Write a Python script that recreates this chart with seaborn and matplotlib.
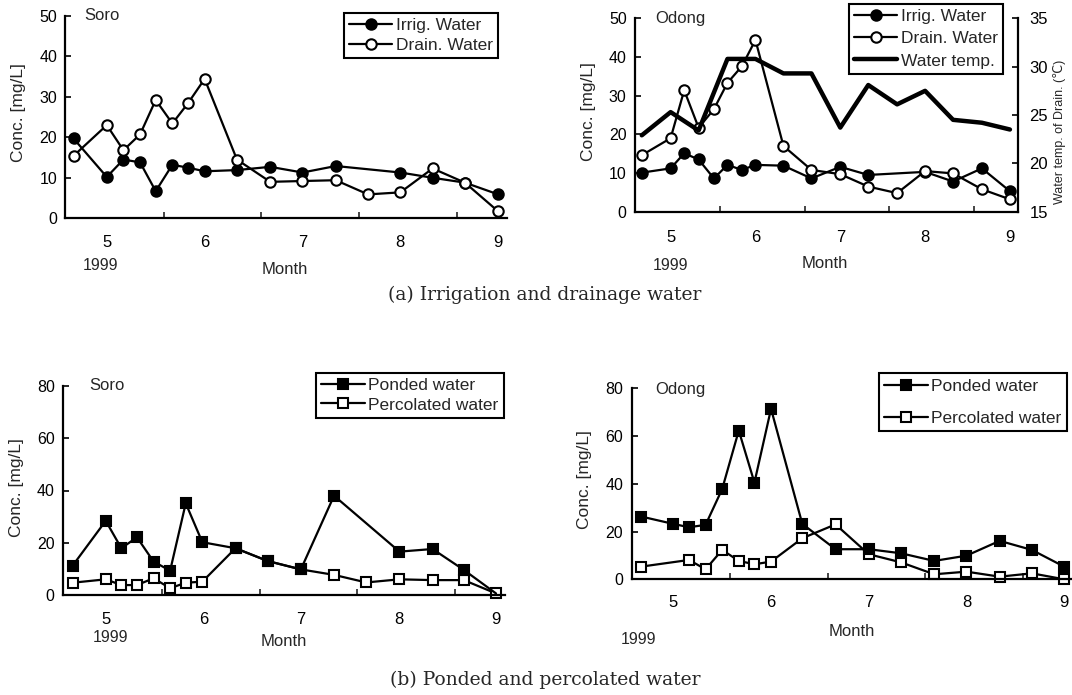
"""
Konsentrasi air irigasi/drainase dan air genangan/perkolasi, Soro & Odong (1999)
"""
import matplotlib
matplotlib.use('Agg')
import matplotlib.pyplot as plt
import seaborn as sns

# ---- data (x = bulan, pecahan) ----
MONTHS = [5, 6, 7, 8, 9]

# (a) Soro
soro_irrig_x = [4.66, 5.0, 5.17, 5.34, 5.5, 5.67, 5.83, 6.0, 6.33, 6.67, 7.0, 7.34, 8.0, 8.33, 8.66, 9.0]
soro_irrig = [19.7, 10.2, 14.5, 13.8, 6.7, 13.2, 12.5, 11.6, 11.9, 12.7, 11.3, 12.9, 11.3, 10.0, 8.8, 5.9]
soro_drain_x = [4.66, 5.0, 5.17, 5.34, 5.5, 5.67, 5.83, 6.0, 6.33, 6.67, 7.0, 7.34, 7.67, 8.0, 8.33, 8.66, 9.0]
soro_drain = [15.4, 23.0, 16.8, 20.7, 29.2, 23.4, 28.4, 34.4, 14.5, 9.0, 9.2, 9.4, 5.9, 6.4, 12.3, 8.8, 1.7]

# (a) Odong
odong_irrig_x = [4.66, 5.0, 5.16, 5.33, 5.51, 5.67, 5.84, 6.0, 6.33, 6.66, 7.0, 7.33, 8.0, 8.33, 8.67, 9.0]
odong_irrig = [10.1, 11.2, 15.1, 13.5, 8.6, 12.1, 10.8, 12.1, 11.9, 8.6, 11.6, 9.5, 10.3, 7.8, 11.2, 5.3]
odong_drain_x = [4.66, 5.0, 5.16, 5.33, 5.51, 5.67, 5.84, 6.0, 6.33, 6.66, 7.0, 7.33, 7.67, 8.0, 8.33, 8.67, 9.0]
odong_drain = [14.6, 19.0, 31.4, 21.7, 26.5, 33.3, 37.6, 44.4, 17.0, 10.8, 9.7, 6.5, 4.8, 10.5, 9.9, 5.8, 3.2]
odong_temp_x = [4.66, 5.0, 5.33, 5.67, 6.0, 6.33, 6.66, 7.0, 7.33, 7.67, 8.0, 8.33, 8.67, 9.0]
odong_temp = [22.9, 25.3, 23.4, 30.8, 30.8, 29.3, 29.3, 23.7, 28.1, 26.1, 27.5, 24.5, 24.2, 23.5]

# (b) Soro
soro_pond_x = [4.66, 5.0, 5.16, 5.32, 5.49, 5.66, 5.82, 5.99, 6.33, 6.66, 7.0, 7.34, 8.01, 8.35, 8.67, 9.0]
soro_pond = [11.2, 28.4, 17.9, 22.1, 12.8, 9.3, 35.1, 20.2, 17.9, 13.0, 9.8, 38.0, 16.6, 17.6, 9.6, 0.6]
soro_perc_x = [4.66, 5.0, 5.16, 5.32, 5.49, 5.66, 5.82, 5.99, 6.33, 6.66, 7.0, 7.34, 7.67, 8.01, 8.35, 8.67, 9.0]
soro_perc = [4.7, 6.0, 3.8, 3.8, 6.4, 2.6, 4.7, 5.1, 17.9, 13.0, 9.8, 7.7, 4.8, 6.0, 5.7, 5.7, 0.6]

# (b) Odong
odong_pond_x = [4.67, 5.0, 5.16, 5.33, 5.5, 5.67, 5.83, 6.0, 6.32, 6.66, 7.0, 7.33, 7.67, 8.0, 8.34, 8.67, 9.0]
odong_pond = [26.3, 23.2, 21.8, 22.8, 37.8, 62.3, 40.5, 71.4, 23.2, 12.6, 12.6, 10.9, 7.7, 9.9, 16.1, 12.3, 5.3]
odong_perc_x = [4.67, 5.16, 5.33, 5.5, 5.67, 5.83, 6.0, 6.32, 6.66, 7.0, 7.33, 7.67, 8.0, 8.34, 8.67, 9.0]
odong_perc = [5.3, 8.1, 4.2, 12.3, 7.7, 6.3, 7.4, 17.2, 23.0, 10.5, 7.1, 2.1, 3.2, 1.1, 2.5, 0.0]

sns.set_style('ticks')
SANS = ['Liberation Sans', 'DejaVu Sans']
plt.rcParams['font.family'] = SANS

W, H = 1072, 695
fig = plt.figure(figsize=(W / 100, H / 100), dpi=100)


def px(x, y):
    # posisi piksel -> koordinat figure
    return x / W, 1 - y / H


def make_axes(left, top, right, bottom):
    return fig.add_axes([left / W, 1 - bottom / H, (right - left) / W, (bottom - top) / H])


def style_axis(ax, xlim, ylim, yticks, pad_x):
    ax.set_xlim(*xlim)
    ax.set_ylim(*ylim)
    ax.set_xticks(MONTHS)
    ax.set_xticklabels([str(m) for m in MONTHS])
    ax.set_xticks([m + 0.58 for m in MONTHS[:-1]], minor=True)
    ax.tick_params(axis='x', which='major', length=0, pad=pad_x, labelsize=12, colors='black')
    ax.tick_params(axis='x', which='minor', direction='in', length=4, width=1.2)
    ax.set_yticks(yticks)
    ax.tick_params(axis='y', direction='in', length=4, width=1.2, pad=6, labelsize=11.5, colors='black')
    for s in ['top', 'right']:
        ax.spines[s].set_visible(False)
    for s in ['left', 'bottom']:
        ax.spines[s].set_linewidth(1.6)
        ax.spines[s].set_color('black')
    ax.set_xlabel('')
    ax.set_ylabel('')


def draw(ax, x, y, marker, filled, label, ms=7.5, lw=1.6, **kw):
    sns.lineplot(x=x, y=y, ax=ax, color='black', linewidth=lw, marker=marker, markersize=ms,
                 markerfacecolor='black' if filled else 'white', markeredgecolor='black',
                 markeredgewidth=1.5, estimator=None, label=label, legend=False, clip_on=False, **kw)


def add_legend(ax, handles, labels, anchor, spacing):
    leg = ax.legend(handles, labels, loc='upper right', bbox_to_anchor=px(*anchor),
                    bbox_transform=fig.transFigure, frameon=True, fancybox=False,
                    edgecolor='black', framealpha=1, fontsize=12.5, handlelength=2.5,
                    handletextpad=0.2, labelspacing=spacing, borderpad=0.3, borderaxespad=0)
    leg.get_frame().set_linewidth(1.5)
    return leg


# ---- (a) Soro ----
ax1 = make_axes(65.4, 15.7, 507, 218.3)
draw(ax1, soro_irrig_x, soro_irrig, 'o', True, 'Irrig. Water')
draw(ax1, soro_drain_x, soro_drain, 'o', False, 'Drain. Water')
style_axis(ax1, (4.577, 9.09), (0, 50), range(0, 51, 10), 12)
h, l = ax1.get_legend_handles_labels()
add_legend(ax1, h, l, (498, 13), 0.25)

# ---- (a) Odong ----
ax2 = make_axes(635, 18.3, 1018.4, 211.7)
draw(ax2, odong_irrig_x, odong_irrig, 'o', True, 'Irrig. Water')
draw(ax2, odong_drain_x, odong_drain, 'o', False, 'Drain. Water')
style_axis(ax2, (4.58, 9.10), (0, 50), range(0, 51, 10), 13)
ax2r = ax2.twinx()
sns.lineplot(x=odong_temp_x, y=odong_temp, ax=ax2r, color='black', linewidth=3.2,
             estimator=None, label='Water temp.', legend=False)
ax2r.set_ylim(15, 35)
ax2r.set_yticks(range(15, 36, 5))
ax2r.tick_params(axis='y', direction='in', length=4, width=1.2, pad=8, labelsize=12, colors='black')
for s in ['top', 'left', 'bottom']:
    ax2r.spines[s].set_visible(False)
ax2r.spines['right'].set_visible(True)
ax2r.spines['right'].set_linewidth(1.6)
ax2r.spines['right'].set_color('black')
ax2r.set_ylabel('')
h1, l1 = ax2.get_legend_handles_labels()
h2, l2 = ax2r.get_legend_handles_labels()
add_legend(ax2r, h1 + h2, l1 + l2, (1003, 4), 0.4)

# ---- (b) Soro ----
ax3 = make_axes(63, 386, 504.5, 595)
draw(ax3, soro_perc_x, soro_perc, 's', False, 'Percolated water', ms=6.5)
draw(ax3, soro_pond_x, soro_pond, 's', True, 'Ponded water', ms=7.5, markevery=slice(0, -1))
style_axis(ax3, (4.562, 9.087), (0, 80), range(0, 81, 20), 12.5)
h, l = ax3.get_legend_handles_labels()
add_legend(ax3, h[::-1], l[::-1], (503.5, 372.7), 0.25)

# ---- (b) Odong ----
ax4 = make_axes(631.6, 388.3, 1071, 579.3)
draw(ax4, odong_perc_x, odong_perc, 's', False, 'Percolated water', ms=6.5)
draw(ax4, odong_pond_x, odong_pond, 's', True, 'Ponded water', ms=7.5)
style_axis(ax4, (4.573, 9.07), (0, 80), range(0, 81, 20), 11)
h, l = ax4.get_legend_handles_labels()
add_legend(ax4, h[::-1], l[::-1], (1066.6, 373.3), 1.0)

# ---- teks ----
def note(x, y, s, size=12, **kw):
    fig.text(*px(x, y), s, fontsize=size, va='center', **kw)


note(84, 15, 'Soro', ha='left')
note(655, 18, 'Odong', ha='left')
note(89.5, 386, 'Soro', ha='left')
note(655, 389, 'Odong', ha='left')

for xx, yy in [(19, 113), (589, 112), (16.5, 488), (585, 480)]:
    note(xx, yy, 'Conc. [mg/L]', size=12.5, ha='center', rotation=90)
note(1059, 132, 'Water temp. of Drain. (℃)', size=9, ha='center', rotation=90)

for xx, yy in [(100, 265), (670.6, 265), (110, 637), (638, 640)]:
    note(xx, yy, '1999', size=11.5, ha='center')
for xx, yy in [(285, 269), (825, 264), (283.4, 641), (851.5, 632)]:
    note(xx, yy, 'Month', size=12, ha='center')

note(545, 295, '(a) Irrigation and drainage water', size=13.5, ha='center', family='DejaVu Serif')
note(545, 680, '(b) Ponded and percolated water', size=13.5, ha='center', family='DejaVu Serif')

fig.savefig('out.png', dpi=100)
plt.close(fig)
